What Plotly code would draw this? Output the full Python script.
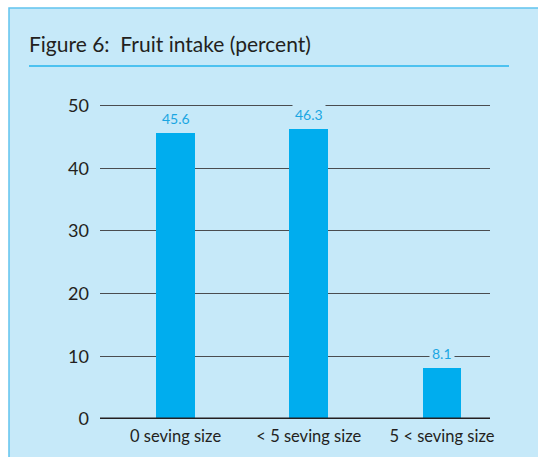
import plotly.graph_objects as go

# data
categories = ["0 seving size", "< 5 seving size", "5 < seving size"]
intake_pct = [45.6, 46.3, 8.1]
y_ticks = [0, 10, 20, 30, 40, 50]

panel_bg = "#c6e9f9"
bar_blue = "#00adee"
label_blue = "#1aa6e2"

fig = go.Figure()
fig.add_trace(
    go.Bar(
        x=list(range(len(categories))),
        y=intake_pct,
        marker=dict(color=bar_blue, line=dict(width=0)),
        width=0.29,
        hoverinfo="skip",
    )
)

# value labels sit above the bars and blank out the gridline behind them
for i, v in enumerate(intake_pct):
    fig.add_annotation(
        x=i, y=v, text=f"{v}",
        showarrow=False, yanchor="bottom", yshift=3,
        font=dict(family="Lato", size=14, color=label_blue),
        bgcolor=panel_bg, borderpad=2,
    )

# plot area spans pixels x 100-490, y 100-419
L, T, R, B = 100.0, 100.0, 490.0, 419.0
def px(x):
    return (x - L) / (R - L)
def py(y):
    return (B - y) / (B - T)

# light blue panel with a border on top and left
fig.add_shape(
    type="rect", xref="paper", yref="paper", layer="below",
    x0=px(9), x1=px(560), y0=py(480), y1=py(8),
    fillcolor=panel_bg, line=dict(color="#62c4ee", width=1.5),
)
# title rule
fig.add_shape(
    type="line", xref="paper", yref="paper",
    x0=px(29), x1=px(509), y0=py(66), y1=py(66),
    line=dict(color="#4dc2f0", width=2),
)
fig.add_annotation(
    xref="paper", yref="paper", x=px(27), y=py(43),
    xanchor="left", yanchor="middle", showarrow=False,
    text="Figure 6:  Fruit intake (percent)",
    font=dict(family="Lato", size=21, color="#231f20"),
)

fig.update_layout(
    width=538, height=457,
    margin=dict(l=L, r=538 - R, t=T, b=457 - B, pad=0),
    paper_bgcolor="white",
    plot_bgcolor="rgba(0,0,0,0)",
    showlegend=False,
    bargap=0,
    xaxis=dict(
        range=[-0.567, 2.36],
        tickmode="array", tickvals=list(range(len(categories))), ticktext=categories,
        showgrid=False, zeroline=False, showline=False, ticks="",
        tickfont=dict(family="Lato", size=16.5, color="#231f20"),
        ticklabelstandoff=5,
    ),
    yaxis=dict(
        range=[0, 50.9],
        tickvals=y_ticks,
        showgrid=True, gridcolor="#4a4d50", gridwidth=1.2,
        zeroline=False, showline=False, ticks="",
        tickfont=dict(family="Lato", size=18, color="#231f20"),
        ticklabelstandoff=10,
    ),
)
# heavy baseline at zero
fig.add_shape(
    type="line", xref="paper", yref="y", layer="above",
    x0=0, x1=1, y0=0, y1=0,
    line=dict(color="#231f20", width=3),
)

fig.write_html(
    "out.html",
    config={"displayModeBar": False},
    post_script="document.body.style.margin='0';document.body.style.overflow='hidden';",
)
